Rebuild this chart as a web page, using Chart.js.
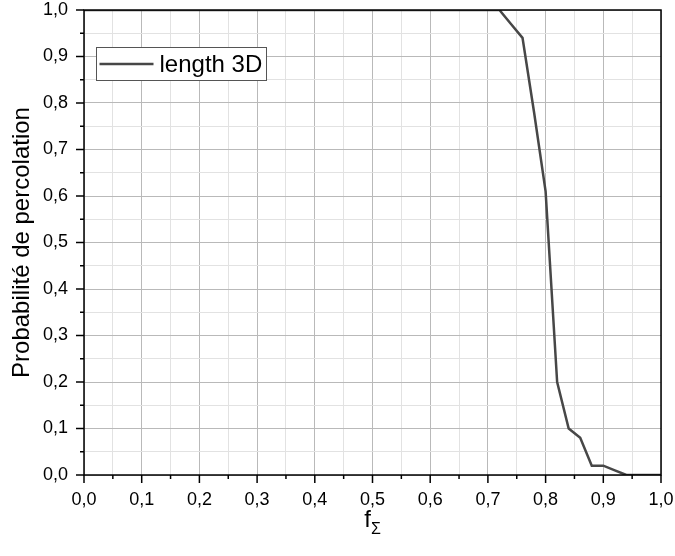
<!DOCTYPE html>
<html>
<head>
<meta charset="utf-8">
<script src="https://cdn.jsdelivr.net/npm/chart.js@4.4.1/dist/chart.umd.min.js"></script>
<style>
  html, body { margin: 0; padding: 0; background: #fff; }
  #wrap { width: 675px; height: 556px; }
</style>
</head>
<body>
<div id="wrap"><canvas id="percChart" width="675" height="556"></canvas></div>
<script>
// data
var fSigma = [0, 0.02, 0.04, 0.06, 0.08, 0.10, 0.12, 0.14, 0.16, 0.18,
  0.20, 0.22, 0.24, 0.26, 0.28, 0.30, 0.32, 0.34, 0.36, 0.38,
  0.40, 0.42, 0.44, 0.46, 0.48, 0.50, 0.52, 0.54, 0.56, 0.58,
  0.60, 0.62, 0.64, 0.66, 0.68, 0.70, 0.72, 0.74, 0.76, 0.78,
  0.80, 0.82, 0.84, 0.86, 0.88, 0.90, 0.92, 0.94, 0.96, 0.98, 1.00];
var probPerc = [1, 1, 1, 1, 1, 1, 1, 1, 1, 1,
  1, 1, 1, 1, 1, 1, 1, 1, 1, 1,
  1, 1, 1, 1, 1, 1, 1, 1, 1, 1,
  1, 1, 1, 1, 1, 1, 1, 0.97, 0.94, 0.78,
  0.61, 0.20, 0.10, 0.08, 0.02, 0.02, 0.01, 0, 0, 0, 0];
var xTickLabels = ["0,0", "0,1", "0,2", "0,3", "0,4", "0,5", "0,6", "0,7", "0,8", "0,9", "1,0"];
var yTickLabels = ["0,0", "0,1", "0,2", "0,3", "0,4", "0,5", "0,6", "0,7", "0,8", "0,9", "1,0"];
var seriesName = "length 3D";

var FONT = "'Liberation Sans', Arial, sans-serif";
var lineColor = "#474747";

var points = fSigma.map(function (x, i) { return {x: x, y: probPerc[i]}; });

function gridColor(c) { return c.index % 2 === 0 ? "#b9b9b9" : "#e2e2e2"; }
function gridDash(c) { return c.index % 2 === 0 ? [] : [3, 3]; }

// frame, tick marks, legend box and x title
var extras = {
  id: "extras",
  afterDraw: function (chart) {
    var ctx = chart.ctx, a = chart.chartArea;
    var xs = chart.scales.x, ys = chart.scales.y;
    ctx.save();
    ctx.strokeStyle = "#000";
    ctx.lineWidth = 1.5;
    ctx.strokeRect(a.left, a.top, a.right - a.left, a.bottom - a.top);

    xs.ticks.forEach(function (t, i) {
      var px = xs.getPixelForValue(t.value);
      var len = i % 2 === 0 ? 8 : 4;
      ctx.beginPath();
      ctx.moveTo(px, a.bottom);
      ctx.lineTo(px, a.bottom + len);
      ctx.stroke();
    });
    ys.ticks.forEach(function (t, i) {
      var py = ys.getPixelForValue(t.value);
      var len = i % 2 === 0 ? 8 : 4;
      ctx.beginPath();
      ctx.moveTo(a.left, py);
      ctx.lineTo(a.left - len, py);
      ctx.stroke();
    });

    // legend
    var ds = chart.data.datasets[0];
    var lx = a.left + 12.5, ly = 47.5, lw = 170, lh = 33;
    ctx.fillStyle = "#fff";
    ctx.fillRect(lx, ly, lw, lh);
    ctx.strokeStyle = "#555";
    ctx.lineWidth = 1;
    ctx.strokeRect(lx, ly, lw, lh);
    ctx.strokeStyle = ds.borderColor;
    ctx.lineWidth = ds.borderWidth;
    ctx.beginPath();
    ctx.moveTo(lx + 3, ly + lh / 2);
    ctx.lineTo(lx + 57, ly + lh / 2);
    ctx.stroke();
    ctx.fillStyle = "#000";
    ctx.font = "24px " + FONT;
    ctx.textBaseline = "middle";
    ctx.textAlign = "left";
    ctx.fillText(ds.label, lx + 63, ly + lh / 2 + 1);

    // x axis title: f with subscript sigma
    var cx = (a.left + a.right) / 2;
    ctx.font = "24px " + FONT;
    var fw = ctx.measureText("f").width;
    ctx.font = "16px " + FONT;
    var sw = ctx.measureText("\u03A3").width;
    var startX = cx - (fw + sw) / 2;
    ctx.textBaseline = "alphabetic";
    ctx.font = "24px " + FONT;
    ctx.fillText("f", startX, 527);
    ctx.font = "16px " + FONT;
    ctx.fillText("\u03A3", startX + fw, 534);
    ctx.restore();
  }
};

var ctxP = document.getElementById("percChart").getContext("2d");
var percChart = new Chart(ctxP, {
  type: "line",
  data: {
    datasets: [{
      label: seriesName,
      data: points,
      borderColor: lineColor,
      backgroundColor: lineColor,
      borderWidth: 2.5,
      pointRadius: 0,
      fill: false,
      tension: 0
    }]
  },
  options: {
    responsive: false,
    animation: false,
    layout: { padding: { left: 0, top: 10, right: 14, bottom: 0 } },
    plugins: {
      legend: { display: false },
      tooltip: { enabled: false }
    },
    scales: {
      x: {
        type: "linear",
        min: 0,
        max: 1,
        afterFit: function (s) { s.height = 81; s.paddingLeft = 0; s.paddingRight = 0; },
        border: { display: false },
        grid: { color: gridColor, borderDash: gridDash, dash: gridDash, lineWidth: 1, drawTicks: false },
        ticks: {
          stepSize: 0.05,
          maxTicksLimit: 100,
          autoSkip: false,
          maxRotation: 0,
          padding: 14,
          color: "#000",
          font: { family: FONT, size: 18 },
          callback: function (v, i) { return i % 2 === 0 ? xTickLabels[i / 2] : ""; }
        }
      },
      y: {
        min: 0,
        max: 1,
        afterFit: function (s) { s.width = 84; s.paddingTop = 0; s.paddingBottom = 0; },
        border: { display: false },
        grid: { color: gridColor, borderDash: gridDash, dash: gridDash, lineWidth: 1, drawTicks: false },
        ticks: {
          stepSize: 0.05,
          maxTicksLimit: 100,
          autoSkip: false,
          padding: 16,
          color: "#000",
          font: { family: FONT, size: 18 },
          callback: function (v, i) { return i % 2 === 0 ? yTickLabels[i / 2] : ""; }
        },
        title: {
          display: true,
          text: "Probabilité de percolation",
          color: "#000",
          font: { family: FONT, size: 24 },
          padding: { top: 8, bottom: 0 }
        }
      }
    }
  },
  plugins: [extras]
});
</script>
</body>
</html>
